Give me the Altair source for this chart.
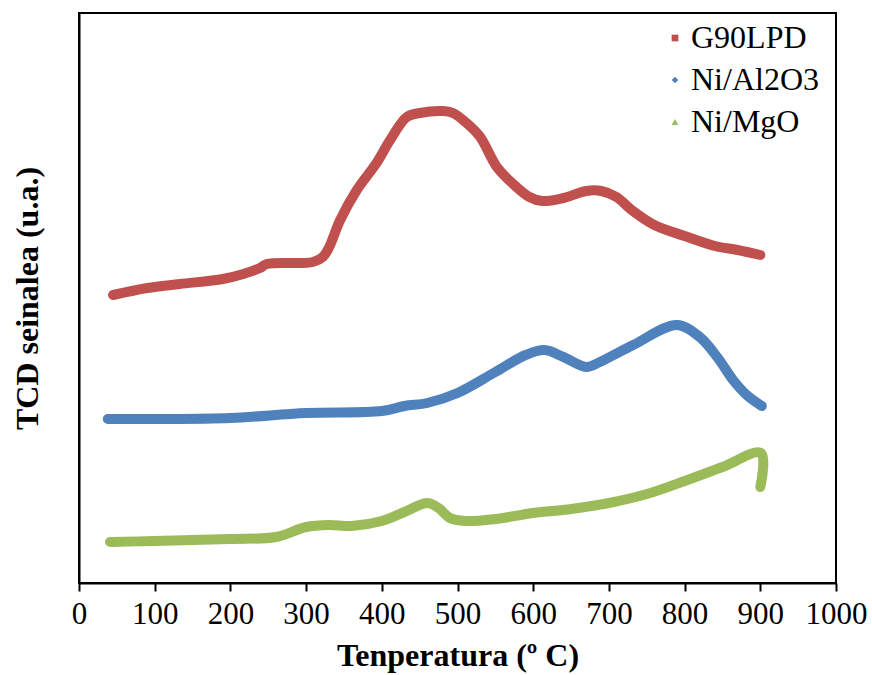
import altair as alt
import pandas as pd

# TPR profiles (arbitrary TCD signal units)
t_g90 = [45, 90, 133, 190, 217, 239, 248, 309, 322, 330, 345, 367, 393, 411, 433, 450,
         481, 494, 512, 530, 552, 575, 595, 612, 640, 670, 690, 710, 730, 760, 800, 840,
         870, 900]
s_g90 = [288, 295, 299, 304, 309, 315, 319, 321, 326, 335, 363, 393, 420, 443, 466, 470,
         472, 470, 460, 446, 416, 398, 386, 382, 385, 392, 392, 386, 373, 358, 347, 337,
         333, 328]

t_al = [38, 100, 200, 300, 400, 430, 460, 500, 550, 590, 615, 640, 670, 688, 732, 790,
        820, 843, 864, 882, 902]
s_al = [164, 164, 165, 170, 172, 177, 180, 190, 211, 228, 233, 226, 216, 221, 238, 258,
        246, 226, 203, 188, 177]

t_mg = [41, 100, 200, 260, 300, 330, 360, 400, 430, 460, 475, 490, 510, 550, 600, 650,
        700, 750, 800, 850, 901, 900]
s_mg = [41, 42, 44, 46, 56, 58, 57, 62, 71, 80, 75, 65, 62, 64, 70, 74,
        80, 89, 102, 116, 130, 96]

series = ["G90LPD", "Ni/Al2O3", "Ni/MgO"]
colors = ["#C0504D", "#4F81BD", "#9BBB59"]
shapes = ["square", "diamond", "triangle-up"]

rows = []
for name, ts, ss in zip(series, [t_g90, t_al, t_mg], [s_g90, s_al, s_mg]):
    for i, (t, s) in enumerate(zip(ts, ss)):
        rows.append({"serie": name, "T": t, "S": s, "ord": i})
df = pd.DataFrame(rows)

FONT = "Liberation Serif"

x_enc = alt.X(
    "T:Q",
    scale=alt.Scale(domain=[0, 1000], nice=False),
    axis=alt.Axis(
        values=list(range(0, 1001, 100)),
        format="d",
        labelOverlap=False,
        labelFlush=False,
        title="Tenperatura (º C)",
        grid=False,
        tickSize=8,
        tickWidth=2,
        tickColor="black",
        domainColor="black",
        domainWidth=2,
        labelFont=FONT,
        labelFontSize=31,
        labelColor="black",
        labelPadding=8,
        titleFont=FONT,
        titleFontSize=32,
        titleFontWeight="bold",
        titleColor="black",
        titleBaseline="alphabetic",
        titleY=82,
    ),
)
y_enc = alt.Y(
    "S:Q",
    scale=alt.Scale(domain=[0, 570], nice=False),
    axis=alt.Axis(
        title="TCD seinalea (u.a.)",
        labels=False,
        ticks=False,
        grid=False,
        domainColor="black",
        domainWidth=2,
        titleFont=FONT,
        titleFontSize=32,
        titleFontWeight="bold",
        titleColor="black",
        titleAngle=-90,
        titleAlign="center",
        titleBaseline="middle",
        titleX=-52,
        titleY=285,
    ),
)

legend = alt.Legend(
    title=None,
    orient="none",
    legendX=580,
    legendY=9,
    labelFont=FONT,
    labelFontSize=32,
    labelColor="black",
    symbolSize=45,
    rowPadding=10,
    labelOffset=0,
    padding=0,
)

base = alt.Chart(df)

points = base.mark_point(filled=True, size=30, opacity=1).encode(
    x=x_enc,
    y=y_enc,
    color=alt.Color("serie:N", scale=alt.Scale(domain=series, range=colors), legend=legend),
    shape=alt.Shape("serie:N", scale=alt.Scale(domain=series, range=shapes), legend=legend),
)

lines = [
    base.transform_filter(alt.datum.serie == name)
    .mark_line(color=col, strokeWidth=10, strokeJoin="round", strokeCap="round",
               interpolate="catmull-rom")
    .encode(x=x_enc, y=y_enc, order="ord:Q")
    for name, col in zip(series, colors)
]

chart = (
    alt.layer(points, *lines)
    .properties(
        width=757,
        height=570,
        autosize="none",
        padding={"left": 79, "top": 13, "right": 36, "bottom": 92},
        background="white",
    )
    .configure(font=FONT)
    .configure_view(stroke="black", strokeWidth=2)
    .configure_legend(labelFont=FONT, labelFontSize=32, labelColor="black")
)

chart.save("out.html", embed_options={"renderer": "svg", "actions": False})
